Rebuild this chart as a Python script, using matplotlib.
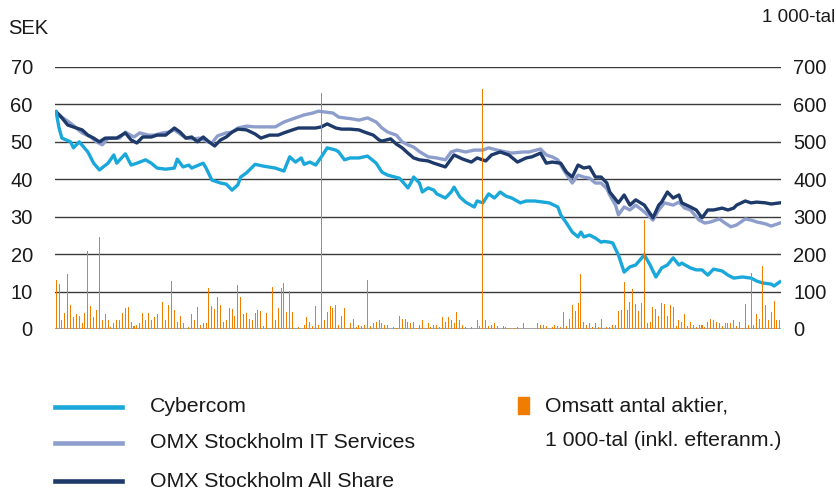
import matplotlib
matplotlib.use('Agg')
import matplotlib.pyplot as plt
from matplotlib.lines import Line2D
from matplotlib.patches import Rectangle

plt.rcParams['font.family'] = ['Liberation Sans', 'DejaVu Sans']

# trading day index -> SEK / index value
cyber_day = [0, 1, 2, 5, 6, 8, 11, 13, 15, 18, 20, 21, 24, 26, 28, 31, 33, 35, 38, 41,
             42, 44, 46, 47, 51, 52, 54, 57, 59, 61, 63, 64, 66, 69, 72, 76, 79, 81, 83, 85,
             86, 88, 90, 92, 94, 97, 98, 100, 102, 105, 108, 111, 113, 115, 119, 120, 122, 123, 124, 126,
             127, 129, 131, 132, 135, 137, 138, 140, 142, 145, 146, 148, 150, 152, 154, 156, 158, 161, 163, 166,
             169, 171, 174, 175, 177, 179, 181, 182, 183, 185, 187, 189, 190, 192, 193, 195, 197, 199, 201, 204,
             206, 208, 210, 212, 214, 216, 217, 220, 222, 224, 226, 228, 231, 233, 235, 238, 241, 243, 245, 248,
             249, 251]
cyber_val = [58.0, 53.7, 51.0, 50.0, 48.4, 50.0, 47.3, 44.3, 42.5, 44.3, 46.5, 44.3, 46.8, 43.8, 44.3, 45.2, 44.3, 43.0, 42.7, 43.0,
             45.4, 43.3, 43.8, 43.0, 44.3, 43.0, 39.8, 39.0, 38.7, 37.1, 38.5, 40.6, 41.7, 44.0, 43.5, 43.0, 42.2, 46.0, 44.6, 45.7,
             44.0, 44.6, 43.8, 46.0, 48.4, 47.8, 47.3, 45.2, 45.7, 45.7, 46.2, 44.3, 41.9, 41.1, 40.3, 39.5, 37.7, 39.0, 40.6, 39.0,
             36.6, 37.7, 37.1, 36.1, 35.0, 36.6, 37.9, 35.3, 33.9, 32.6, 34.2, 33.7, 36.1, 35.0, 36.6, 35.5, 35.0, 33.7, 34.2, 34.2,
             33.9, 33.7, 32.6, 30.5, 28.3, 25.9, 24.6, 25.9, 24.6, 25.1, 24.3, 23.2, 23.4, 23.2, 23.0, 19.8, 15.2, 16.6, 17.1, 19.8,
             17.1, 13.9, 16.3, 17.1, 19.0, 17.1, 17.6, 16.3, 15.8, 15.8, 14.4, 16.0, 15.5, 14.4, 13.6, 13.9, 13.6, 12.8, 12.3, 12.0,
             11.5, 12.6]

it_day = [0, 2, 5, 7, 9, 12, 14, 16, 18, 20, 22, 24, 27, 29, 32, 34, 37, 39, 41, 43,
          45, 47, 50, 52, 54, 56, 59, 61, 63, 66, 69, 72, 76, 79, 83, 86, 89, 91, 93, 96,
          98, 100, 103, 105, 108, 111, 113, 115, 118, 120, 122, 124, 126, 129, 132, 135, 137, 139, 142, 145,
          148, 150, 153, 156, 158, 162, 164, 168, 170, 172, 174, 176, 179, 181, 183, 185, 187, 189, 191, 192,
          194, 195, 197, 199, 201, 204, 207, 209, 211, 214, 216, 218, 220, 223, 225, 227, 230, 232, 234, 236,
          239, 241, 243, 246, 248, 251]
it_val = [58.0, 56.6, 55.0, 53.7, 52.4, 51.3, 50.0, 49.2, 51.0, 51.0, 51.0, 52.6, 51.3, 52.4, 51.8, 51.8, 52.4, 52.6, 53.2, 52.1,
          51.0, 50.8, 51.0, 50.2, 49.7, 51.6, 52.4, 52.6, 53.7, 54.2, 54.0, 54.0, 54.0, 55.3, 56.4, 57.2, 57.7, 58.2, 58.0, 57.7,
          56.6, 56.4, 56.1, 55.8, 56.4, 55.3, 53.7, 52.6, 51.8, 50.0, 49.2, 48.6, 47.4, 46.0, 45.7, 45.2, 47.3, 47.8, 47.3, 47.8,
          47.8, 48.4, 47.8, 47.3, 47.0, 47.3, 47.3, 48.1, 46.5, 46.0, 45.2, 42.5, 39.0, 41.1, 40.6, 40.3, 39.0, 39.0, 37.5, 35.8,
          33.1, 30.5, 32.6, 31.8, 33.1, 31.3, 29.1, 31.8, 33.7, 33.1, 33.9, 32.3, 31.8, 29.1, 28.3, 28.6, 29.4, 28.3, 27.3, 27.8,
          29.4, 29.1, 28.6, 28.1, 27.5, 28.3]

all_day = [0, 2, 4, 7, 9, 11, 13, 15, 17, 19, 21, 24, 26, 28, 30, 33, 35, 38, 41, 43,
           45, 47, 49, 51, 53, 55, 57, 59, 61, 63, 66, 69, 71, 74, 77, 79, 82, 84, 87, 90,
           92, 94, 97, 99, 102, 105, 107, 110, 112, 113, 116, 118, 120, 122, 124, 126, 129, 131, 135, 138,
           141, 144, 146, 149, 151, 154, 157, 160, 163, 165, 168, 170, 172, 175, 177, 179, 181, 183, 185, 187,
           189, 191, 192, 195, 197, 199, 201, 204, 207, 209, 210, 212, 214, 216, 217, 220, 222, 224, 226, 228,
           231, 233, 235, 236, 239, 241, 243, 246, 248, 251]
all_val = [58.0, 56.4, 54.5, 53.7, 53.2, 51.8, 51.0, 50.0, 51.0, 51.0, 51.0, 52.4, 50.5, 49.7, 51.3, 51.3, 51.8, 51.8, 53.7, 52.6,
           51.0, 51.3, 50.0, 51.3, 50.0, 48.9, 50.5, 51.3, 52.6, 53.4, 53.2, 52.1, 51.0, 51.8, 51.8, 52.4, 53.2, 53.7, 53.7, 53.7,
           54.0, 54.8, 53.7, 53.4, 53.4, 53.2, 52.6, 51.8, 50.5, 50.2, 50.8, 49.4, 48.4, 47.0, 45.7, 45.2, 44.9, 44.3, 43.3, 46.5,
           45.4, 44.6, 45.7, 44.9, 46.5, 47.3, 46.5, 44.6, 45.7, 46.0, 47.0, 44.3, 44.6, 44.3, 41.9, 40.6, 43.8, 43.0, 43.3, 40.6,
           40.6, 39.0, 36.6, 33.7, 35.8, 33.1, 34.5, 33.1, 29.7, 33.1, 33.9, 36.6, 35.0, 35.8, 33.7, 32.6, 31.8, 29.7, 31.8, 31.8,
           32.3, 31.8, 32.3, 33.1, 34.2, 33.7, 33.9, 33.7, 33.4, 33.7]

# traded shares per day, 1 000-tal
volume = [132, 121, 25, 42, 148, 64, 31, 39, 36, 17, 42, 208, 61, 31, 50, 246, 25, 39, 25, 6,
          17, 23, 23, 42, 55, 58, 20, 9, 12, 15, 42, 25, 42, 23, 31, 39, 0, 72, 25, 64,
          129, 50, 20, 36, 17, 0, 6, 39, 23, 58, 12, 15, 17, 110, 61, 53, 85, 64, 20, 23,
          55, 53, 36, 118, 85, 39, 42, 28, 25, 42, 50, 47, 9, 42, 4, 113, 25, 55, 110, 124,
          45, 102, 45, 4, 6, 0, 12, 31, 20, 9, 61, 12, 630, 25, 45, 61, 55, 64, 12, 36,
          55, 4, 17, 28, 6, 12, 9, 12, 132, 9, 17, 20, 25, 15, 12, 12, 0, 6, 4, 36,
          28, 28, 20, 17, 20, 4, 12, 23, 0, 17, 6, 12, 12, 6, 31, 20, 31, 25, 17, 45,
          23, 12, 6, 0, 6, 0, 23, 9, 640, 25, 9, 12, 17, 9, 0, 9, 6, 4, 0, 4,
          6, 0, 15, 0, 0, 0, 0, 17, 12, 12, 9, 0, 6, 12, 9, 6, 45, 9, 28, 64,
          47, 69, 148, 20, 12, 17, 6, 17, 6, 28, 0, 6, 6, 12, 12, 47, 50, 126, 50, 72,
          107, 66, 47, 69, 291, 15, 20, 58, 53, 34, 69, 66, 34, 64, 58, 9, 25, 20, 39, 9,
          20, 12, 6, 12, 12, 6, 20, 28, 23, 20, 17, 9, 15, 15, 17, 23, 9, 20, 4, 66,
          12, 150, 12, 39, 28, 167, 64, 23, 45, 75, 25, 25]

left_ticks = [0, 10, 20, 30, 40, 50, 60, 70]
right_ticks = [0, 100, 200, 300, 400, 500, 600, 700]

c_cyber = '#1AA7D9'
c_it = '#8E9ECC'
c_all = '#1E3A6A'
c_vol = '#F07D00'
txt = '#1a1a1a'
fs = 14.5
fs_leg = 15.3

fig = plt.figure(figsize=(8.37, 4.9), dpi=100)
ax = fig.add_axes([55 / 837, 1 - 329 / 490, 726 / 837, 262 / 490])
ax2 = ax.twinx()

for y in left_ticks[1:]:
    ax.axhline(y, color='#3a3a3a', lw=1.0, zorder=0)
ax.axhline(0, color='#999999', lw=2.0, zorder=0)

ax.plot(it_day, it_val, color=c_it, lw=2.4, zorder=3)
ax.plot(all_day, all_val, color=c_all, lw=2.4, zorder=4)
ax.plot(cyber_day, cyber_val, color=c_cyber, lw=2.4, zorder=5)

ax2.bar(range(len(volume)), volume, width=0.35, color=c_vol, zorder=6)

ax.set_xlim(-0.4, len(volume) - 0.6)
ax.set_ylim(0, 70)
ax2.set_ylim(0, 700)
ax.set_yticks(left_ticks)
ax2.set_yticks(right_ticks)
ax.set_xticks([])
for a in (ax, ax2):
    for s in a.spines.values():
        s.set_visible(False)
ax.tick_params(axis='y', length=0, pad=16, labelsize=fs, labelcolor=txt)
ax2.tick_params(axis='y', length=0, pad=9, labelsize=fs, labelcolor=txt)

fig.text(8 / 837, 1 - 28 / 490, 'SEK', fontsize=fs, va='center', ha='left', color=txt)
fig.text(835 / 837, 1 - 18 / 490, '1 000-tal', fontsize=13.5, va='center', ha='right', color=txt)

# legend
legend_items = [('Cybercom', c_cyber, 407), ('OMX Stockholm IT Services', c_it, 443),
                ('OMX Stockholm All Share', c_all, 481)]
for label, col, ypix in legend_items:
    yf = 1 - ypix / 490
    fig.add_artist(Line2D([55 / 837, 122 / 837], [yf, yf], color=col, lw=3.3, transform=fig.transFigure))
    fig.text(150 / 837, yf, label, fontsize=fs_leg, va='center', ha='left', color=txt)

fig.add_artist(Rectangle((518 / 837, 1 - 414 / 490), 11 / 837, 17 / 490, color=c_vol,
                         transform=fig.transFigure))
fig.text(545 / 837, 1 - 406 / 490, 'Omsatt antal aktier,', fontsize=fs_leg, va='center', ha='left', color=txt)
fig.text(545 / 837, 1 - 440 / 490, '1 000-tal (inkl. efteranm.)', fontsize=fs_leg, va='center', ha='left', color=txt)

fig.savefig('out.png', dpi=100)
